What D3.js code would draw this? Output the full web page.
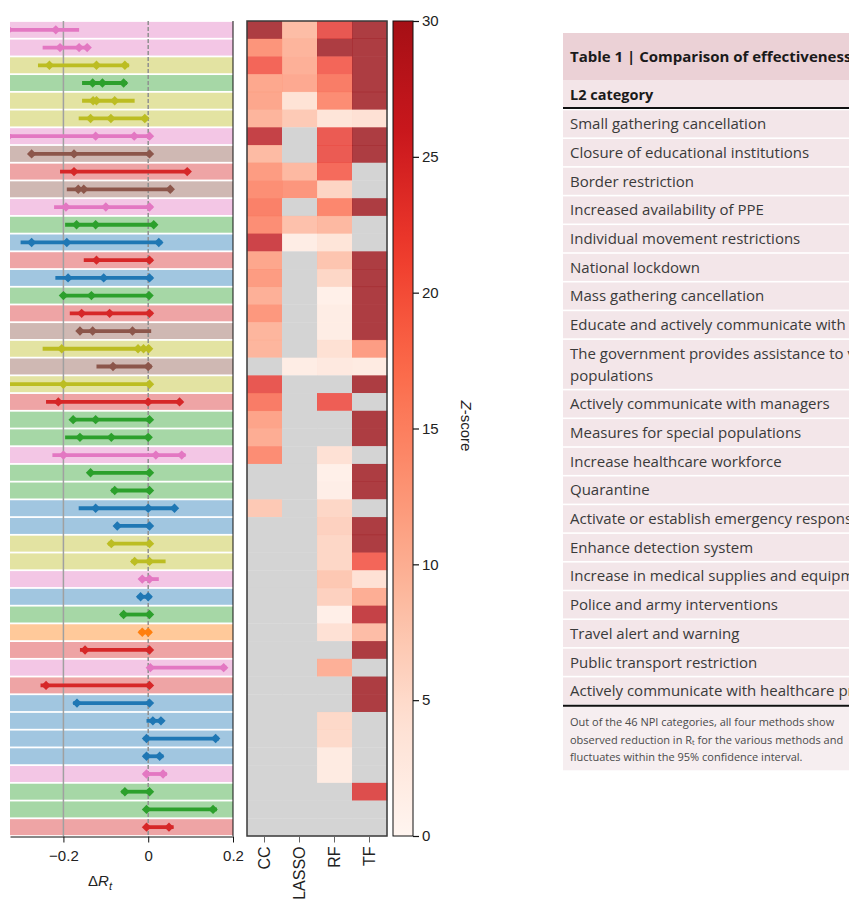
<!DOCTYPE html>
<html><head><meta charset="utf-8">
<script src="https://cdn.jsdelivr.net/npm/d3@7"></script>
<style>body{margin:0;background:#fff}svg{display:block}</style>
</head><body><svg id="c" width="849" height="910"></svg>
<script>
// ---------- DATA ----------
const catColor = {pink:"#e377c2", olive:"#bcbd22", green:"#2ca02c", brown:"#8c564b", red:"#d62728", blue:"#1f77b4", orange:"#ff7f0e"};
const rowCat = ["pink","pink","olive","green","olive","olive","pink","brown","red","brown",
  "pink","green","blue","red","blue","green","red","brown","olive","brown",
  "olive","red","green","green","pink","green","green","blue","blue","olive",
  "olive","pink","blue","green","orange","red","pink","red","blue","blue",
  "blue","blue","pink","green","green","red"];
const lo = [-0.34,-0.249,-0.26,-0.156,-0.156,-0.164,-0.34,-0.28,-0.208,-0.192,
  -0.222,-0.196,-0.301,-0.152,-0.219,-0.2,-0.185,-0.167,-0.249,-0.122,
  -0.34,-0.241,-0.18,-0.196,-0.226,-0.142,-0.087,-0.164,-0.079,-0.095,
  -0.04,-0.02,-0.025,-0.065,-0.022,-0.161,0.0,-0.254,-0.177,-0.004,
  -0.011,-0.011,-0.011,-0.063,-0.01,-0.01];
const hi = [-0.163,-0.144,-0.045,-0.05,-0.032,-0.001,0.007,0.007,0.098,0.058,
  0.01,0.019,0.033,0.01,0.01,0.007,0.01,0.007,0.005,0.008,
  0.008,0.08,0.008,0.005,0.088,0.008,0.008,0.068,0.008,0.008,
  0.041,0.025,0.007,0.008,0.007,0.008,0.185,0.008,0.008,0.036,
  0.167,0.036,0.044,0.008,0.162,0.06];
const est = [[-0.33,-0.218],[-0.208,-0.163,-0.144],[-0.233,-0.122,-0.055],[-0.131,-0.108,-0.058],[-0.13,-0.122,-0.079],
  [-0.136,-0.088,-0.008],[-0.33,-0.124,-0.033,0.003],[-0.275,-0.175,0.003],[-0.175,0.092],[-0.165,-0.152,0.052],
  [-0.194,-0.1,0.003],[-0.169,-0.124,0.013],[-0.275,-0.192,0.025],[-0.122,0.003],[-0.189,-0.105,0.003],
  [-0.2,-0.134,0.002],[-0.157,-0.091,0.003],[-0.161,-0.131,-0.037],[-0.204,-0.024,-0.011,0.001],[-0.083,0.0],
  [-0.2,0.003],[-0.212,0.0,0.074],[-0.177,-0.124,0.003],[-0.161,-0.087,0.0],[-0.2,0.018,0.079],
  [-0.136,0.003],[-0.079,0.003],[-0.124,0.0,0.062],[-0.073,0.003],[-0.087,0.003],
  [-0.032,0.003],[-0.014,0.003],[-0.018,0.0],[-0.058,0.003],[-0.014,0.0],
  [-0.149,0.003],[0.005,0.178],[-0.241,0.003],[-0.168,0.003],[0.011,0.03],
  [-0.004,0.159],[-0.004,0.027],[-0.004,0.035],[-0.055,0.003],[-0.004,0.153],[-0.004,0.049]];
const forestTicks = [-0.2, 0, 0.2];

const methods = ["CC","LASSO","RF","TF"];
const cc = [32,15.4,21,12.9,13,11.2,28,10.4,14.5,16.2,18,16.3,27,13,14.5,11.8,15,11,11,null,
  23,18.5,13.4,12.2,16.4,null,null,8.5,null,null,null,null,null,null,null,null,null,null,null,null,
  null,null,null,null,null,null];
const lasso = [10.1,11.1,11.8,12.6,4.8,8.3,null,null,10.6,15.2,null,9.5,2.5,null,null,null,null,null,null,2.5,
  null,null,null,null,null,null,null,null,null,null,null,null,null,null,null,null,null,null,null,null,
  null,null,null,null,null,null];
const rf = [23,32,21,18.4,16.4,4.5,22.5,22.5,20.4,6.8,17.2,10.6,4.5,9,6.5,1.8,2.5,2.5,5.1,3.5,
  null,22,null,null,5,1.8,2.2,6.5,7.3,6.5,6.5,8.7,7.3,2,5,null,11.8,null,null,6.3,
  6,3,3,null,null,null];
const tf = [32,32,32,32,32,5,32,32,null,null,32,null,null,32,32,32,32,32,14.3,3,
  32,null,32,32,null,32,32,null,32,32,21,5,12,28,10,32,null,32,32,null,
  null,null,null,24.5,null,null];
const zTicks = [0,5,10,15,20,25,30];

const tableTitle = "Table 1 | Comparison of effectiveness";
const tableHeader = "L2 category";
const tableRows = ["Small gathering cancellation","Closure of educational institutions","Border restriction",
  "Increased availability of PPE","Individual movement restrictions","National lockdown","Mass gathering cancellation",
  "Educate and actively communicate with the public","The government provides assistance to vulnerable|populations",
  "Actively communicate with managers","Measures for special populations","Increase healthcare workforce","Quarantine",
  "Activate or establish emergency response","Enhance detection system","Increase in medical supplies and equipment",
  "Police and army interventions","Travel alert and warning","Public transport restriction",
  "Actively communicate with healthcare professionals"];
const footnote = ["Out of the 46 NPI categories, all four methods show",
  "observed reduction in R\u209C for the various methods and",
  "fluctuates within the 95% confidence interval."];

// ---------- DRAW ----------
const svg = d3.select("#c");
svg.append("rect").attr("width",849).attr("height",910).attr("fill","#fff");
const F = "'Liberation Sans', Arial, sans-serif";
const n = rowCat.length;
const y = d3.scaleBand().domain(d3.range(n)).range([21, 836]).paddingInner(0.1).paddingOuter(0.05);
const x = d3.scaleLinear().domain([-0.326, 0.2]).range([10, 233]);

svg.append("defs").append("clipPath").attr("id","fclip").append("rect")
  .attr("x",10).attr("y",18).attr("width",223).attr("height",820);
const fg = svg.append("g").attr("clip-path","url(#fclip)");
fg.selectAll("rect.band").data(d3.range(n)).join("rect")
  .attr("x",10).attr("width",223).attr("y",i=>y(i)).attr("height",y.bandwidth())
  .attr("fill",i=>catColor[rowCat[i]]).attr("fill-opacity",0.42);
fg.append("line").attr("x1",x(-0.2)).attr("x2",x(-0.2)).attr("y1",21).attr("y2",836)
  .attr("stroke","#a0a0a0").attr("stroke-width",1.5);
fg.append("line").attr("x1",x(0)).attr("x2",x(0)).attr("y1",21).attr("y2",836)
  .attr("stroke","#909090").attr("stroke-width",1.5).attr("stroke-dasharray","4,2");
fg.selectAll("line.ci").data(d3.range(n)).join("line")
  .attr("x1",i=>x(lo[i])).attr("x2",i=>x(hi[i]))
  .attr("y1",i=>y(i)+y.bandwidth()/2).attr("y2",i=>y(i)+y.bandwidth()/2)
  .attr("stroke",i=>catColor[rowCat[i]]).attr("stroke-width",3.8);
const sym = d3.symbol(d3.symbolSquare, 44);
const pts = [];
est.forEach((a,i)=>a.forEach(v=>pts.push({i,v})));
fg.selectAll("path.pt").data(pts).join("path")
  .attr("d",sym())
  .attr("transform",d=>`translate(${x(d.v)},${y(d.i)+y.bandwidth()/2}) rotate(45)`)
  .attr("fill",d=>catColor[rowCat[d.i]]);
svg.append("line").attr("x1",233).attr("x2",233).attr("y1",21).attr("y2",836).attr("stroke","#111").attr("stroke-width",1);
const xa = svg.append("g").attr("transform","translate(0,836.5)")
  .call(d3.axisBottom(x).tickValues(forestTicks).tickSize(6).tickSizeOuter(0).tickFormat(d=>d===0?"0":d3.format("")(d)));
xa.select(".domain").attr("stroke","#111");
xa.selectAll(".tick line").attr("stroke","#111");
xa.selectAll("text").attr("font-family",F).attr("font-size",15).attr("fill","#222").attr("dy","1.05em");
const lab = svg.append("text").attr("x",100).attr("y",886).attr("text-anchor","middle")
  .attr("font-family",F).attr("font-size",15).attr("fill","#222");
lab.append("tspan").text("\u0394");
lab.append("tspan").attr("font-style","italic").text("R");
lab.append("tspan").attr("font-style","italic").attr("font-size",11).attr("dy",4).text("t");

// heatmap
const hx = d3.scaleBand().domain(methods).range([247, 387]);
const cols = {CC:cc, LASSO:lasso, RF:rf, TF:tf};
const reds = ["#fff5f0","#fee0d2","#fcbba1","#fc9272","#fb6a4a","#ef3b2c","#cb181d","#a50f15"];
const zDom = reds.map((c,i)=>i*30/(reds.length-1)).concat([40]);
const z = d3.scaleLinear().domain(zDom).range(reds.concat(["#67000d"])).clamp(true);
const yh = d3.scaleBand().domain(d3.range(n)).range([21, 836]);
const cells = [];
methods.forEach(m=>cols[m].forEach((v,i)=>cells.push({m,i,v})));
svg.append("g").selectAll("rect").data(cells).join("rect")
  .attr("x",d=>hx(d.m)).attr("width",hx.bandwidth()+0.3)
  .attr("y",d=>yh(d.i)).attr("height",yh.bandwidth()+0.3)
  .attr("fill",d=>d.v==null?"#d4d4d4":z(d.v))
  .attr("fill-opacity",d=>d.v==null?1:0.8);
svg.append("rect").attr("x",247).attr("y",21).attr("width",140).attr("height",815)
  .attr("fill","none").attr("stroke","#3a3a3a").attr("stroke-width",1.5);
const ha = svg.append("g").attr("transform","translate(0,836.5)")
  .call(d3.axisBottom(hx).tickSize(6).tickSizeOuter(0));
ha.select(".domain").remove();
ha.selectAll(".tick line").attr("stroke","#666");
ha.selectAll("text").attr("font-family",F).attr("font-size",16).attr("fill","#222")
  .attr("transform","rotate(-90)").attr("text-anchor","end").attr("x",-10).attr("y",0).attr("dy","0.35em");

// colorbar
const grad = svg.select("defs").append("linearGradient").attr("id","zg").attr("x1",0).attr("x2",0).attr("y1",1).attr("y2",0);
d3.range(0,31,1).forEach(v=>grad.append("stop").attr("offset",v/30).attr("stop-color",z(v)));
const zy = d3.scaleLinear().domain([0,30]).range([836,21]);
svg.append("rect").attr("x",393).attr("y",21).attr("width",20).attr("height",815)
  .attr("fill","url(#zg)").attr("stroke","#111").attr("stroke-width",1);
const za = svg.append("g").attr("transform","translate(413,0)")
  .call(d3.axisRight(zy).tickValues(zTicks).tickSize(6).tickSizeOuter(0));
za.select(".domain").remove();
za.selectAll(".tick line").attr("stroke","#111").attr("stroke-width",1.2);
za.selectAll("text").attr("font-family",F).attr("font-size",15).attr("fill","#222").attr("x",9);
const zl = svg.append("text").attr("transform","translate(461,426) rotate(90)").attr("text-anchor","middle")
  .attr("font-family",F).attr("font-size",15).attr("fill","#222");
zl.append("tspan").attr("font-style","italic").text("Z");
zl.append("tspan").text("-score");

// table
const TF = "'Open Sans', 'Noto Sans', sans-serif";
const tg = svg.append("g");
tg.append("rect").attr("x",563).attr("y",33).attr("width",300).attr("height",47).attr("fill","#ebd1d6");
tg.append("text").attr("x",570).attr("y",62).attr("font-family",TF).attr("font-weight","bold")
  .attr("font-size",15).attr("fill","#1a1a1a").text(tableTitle);
tg.append("rect").attr("x",563).attr("y",80).attr("width",300).attr("height",28).attr("fill","#f3e5e8");
tg.append("text").attr("x",570).attr("y",100).attr("font-family",TF).attr("font-weight","bold")
  .attr("font-size",14.5).attr("fill","#1a1a1a").text(tableHeader);
let yy = 109.5;
const rh = 28.7;
tableRows.forEach((t,i)=>{
  const parts = t.split("|");
  const h = parts.length>1 ? 50.5 : rh;
  tg.append("rect").attr("x",563).attr("y",yy+0.8).attr("width",300).attr("height",h-1.6).attr("fill","#f3e6e9");
  parts.forEach((p,k)=>{
    tg.append("text").attr("x",570).attr("y",yy+h/2+(parts.length>1?(k===0?-11:11):0)).attr("dy","0.35em")
      .attr("font-family",TF).attr("font-size",15).attr("fill","#3a3a3a").text(p);
  });
  yy += h;
});
tg.append("line").attr("x1",563).attr("x2",849).attr("y1",108).attr("y2",108).attr("stroke","#111").attr("stroke-width",2);
tg.append("rect").attr("x",563).attr("y",yy+1).attr("width",300).attr("height",64).attr("fill","#f6eef0");
tg.append("line").attr("x1",563).attr("x2",849).attr("y1",yy+0.5).attr("y2",yy+0.5).attr("stroke","#111").attr("stroke-width",2);
footnote.forEach((t,k)=>{
  tg.append("text").attr("x",570).attr("y",yy+17+k*17.5).attr("dy","0.35em")
    .attr("font-family",TF).attr("font-size",11).attr("fill","#4a4a4a").text(t);
});
</script></body></html>
